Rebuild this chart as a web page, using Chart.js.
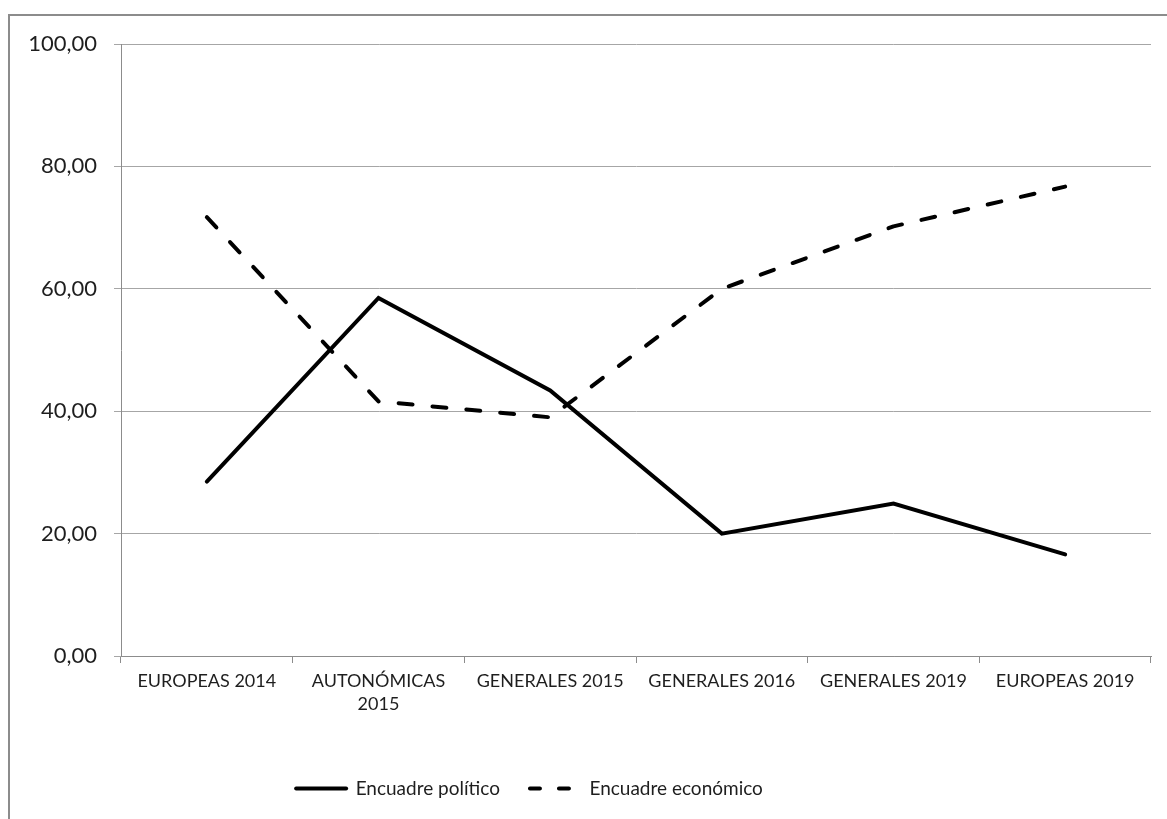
<!DOCTYPE html>
<html>
<head>
<meta charset="utf-8">
<script src="https://cdn.jsdelivr.net/npm/chart.js@4.4.0/dist/chart.umd.min.js"></script>
<style>
  html, body { margin: 0; padding: 0; background: #fff; overflow: hidden; }
  #frame { position: absolute; left: 8px; top: 14px; width: 1300px; height: 1000px; border: 2px solid #8c8c8c; box-sizing: border-box; }
  #wrap { position: absolute; left: 0; top: 0; width: 1167px; height: 819px; }
</style>
</head>
<body>
<div id="frame"></div>
<div id="wrap"><canvas id="c" width="1167" height="819"></canvas></div>
<script>
const categories = ['EUROPEAS 2014', ['AUTONÓMICAS', '2015'], 'GENERALES 2015', 'GENERALES 2016', 'GENERALES 2019', 'EUROPEAS 2019'];
const seriesNames = ['Encuadre político', 'Encuadre económico'];
const politico = [28.5, 58.5, 43.4, 20.0, 24.9, 16.6];
const economico = [71.7, 41.6, 39.0, 60.0, 70.2, 76.7];
const yTicks = { min: 0, max: 100, step: 20 };

const fontFamily = "Lato, 'Noto Sans', sans-serif";
const textColor = '#1e1e1e';

const shiftLegend = {
  id: 'shiftLegend',
  afterLayout(chart) {
    const lg = chart.legend;
    if (lg) { lg.left -= 46; lg.right -= 46; }
  }
};

new Chart(document.getElementById('c'), {
  type: 'line',
  data: {
    labels: categories,
    datasets: [
      { label: seriesNames[0], data: politico, borderColor: '#000', backgroundColor: '#000', borderWidth: 4, pointRadius: 0, tension: 0, borderCapStyle: 'round', borderJoinStyle: 'miter' },
      { label: seriesNames[1], data: economico, borderColor: '#000', backgroundColor: '#000', borderWidth: 4, pointRadius: 0, tension: 0, borderDash: [14, 20], borderCapStyle: 'round', borderJoinStyle: 'round' }
    ]
  },
  options: {
    responsive: false,
    animation: false,
    events: [],
    layout: { padding: { top: 44, left: 0, right: 16, bottom: 11 } },
    plugins: {
      tooltip: { enabled: false },
      legend: {
        position: 'bottom',
        labels: {
          usePointStyle: true,
          pointStyle: 'line',
          pointStyleWidth: 50,
          boxHeight: 19,
          padding: 30,
          color: textColor,
          font: { family: fontFamily, size: 19 },
          generateLabels(chart) {
            return chart.data.datasets.map((ds, i) => ({
              text: ds.label,
              fillStyle: '#000',
              strokeStyle: '#000',
              lineWidth: 4,
              lineCap: 'round',
              lineDash: ds.borderDash ? [10, 19] : [],
              pointStyle: 'line',
              hidden: false,
              fontColor: textColor,
              datasetIndex: i
            }));
          }
        }
      }
    },
    scales: {
      x: {
        offset: true,
        grid: { offset: true, drawOnChartArea: false, drawTicks: true, tickLength: 7, color: '#8c8c8c' },
        border: { color: '#8c8c8c', width: 1 },
        ticks: { color: textColor, font: { family: fontFamily, size: 18, lineHeight: 1.25 }, maxRotation: 0, autoSkip: false, padding: 7 },
        afterFit(s) { s.height = 93; }
      },
      y: {
        min: yTicks.min, max: yTicks.max,
        grid: { color: '#a6a6a6', tickLength: 7, drawTicks: true },
        border: { color: '#8c8c8c', width: 1 },
        ticks: {
          stepSize: yTicks.step,
          color: textColor,
          padding: 17,
          font: { family: fontFamily, size: 22 },
          callback: v => v.toFixed(2).replace('.', ',')
        },
        afterFit(s) { s.width = 121; }
      }
    }
  },
  plugins: [shiftLegend]
});
</script>
</body>
</html>
